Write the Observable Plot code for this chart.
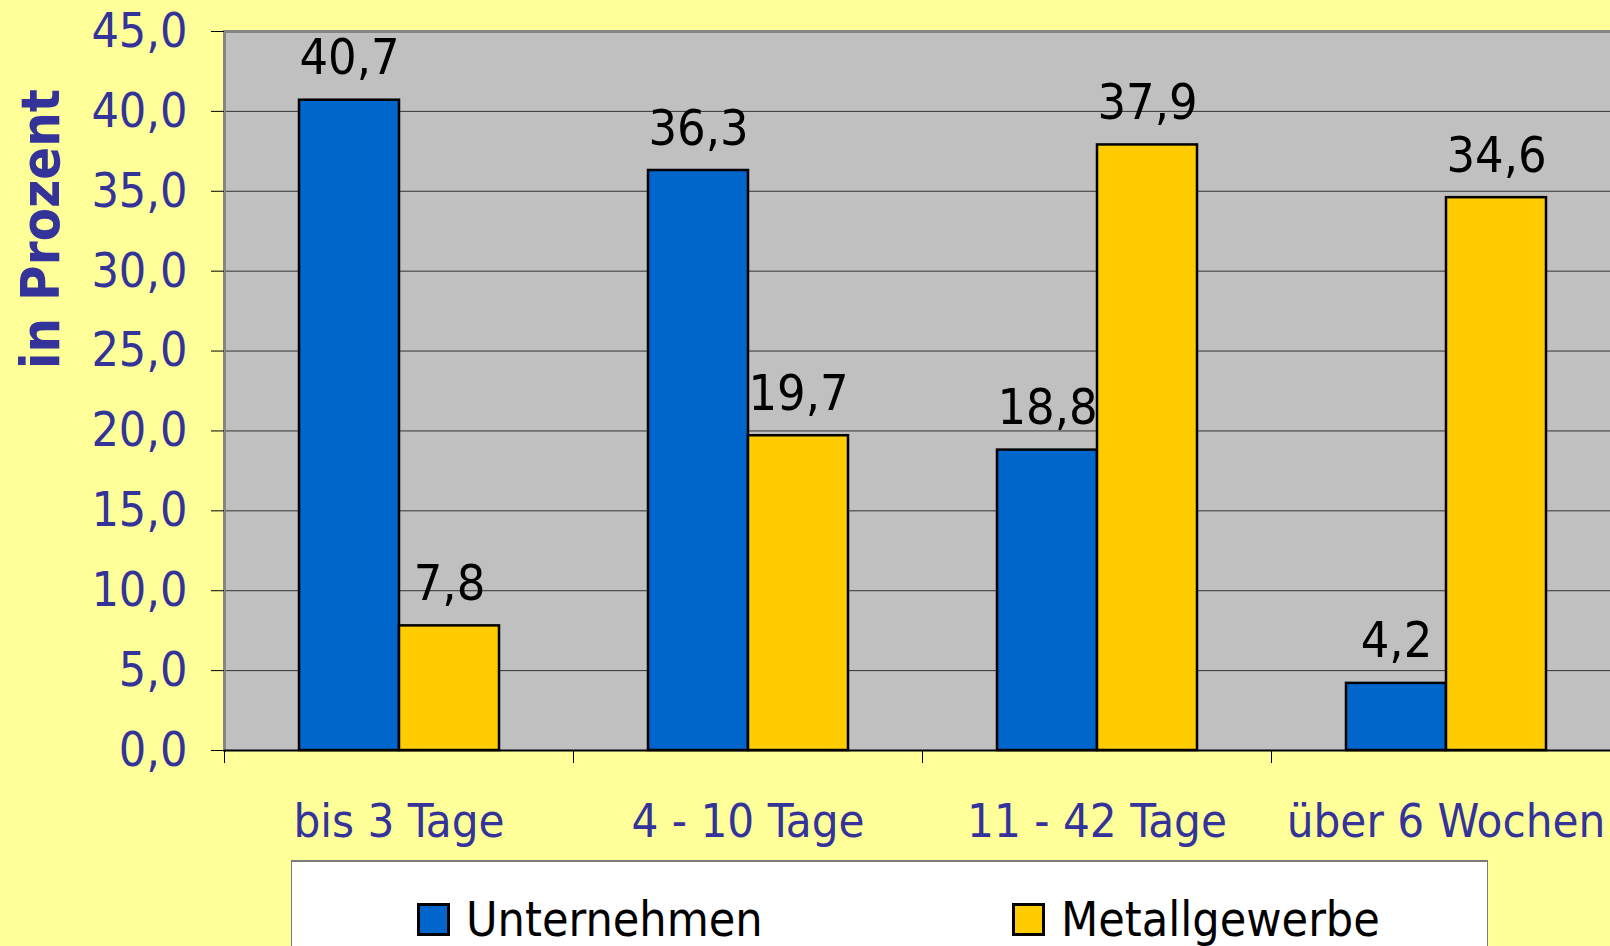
<!DOCTYPE html>
<html>
<head>
<meta charset="utf-8">
<script src="https://cdn.jsdelivr.net/npm/d3@7"></script>
<script src="https://cdn.jsdelivr.net/npm/@observablehq/plot@0.6"></script>
<style>
  html, body { margin: 0; padding: 0; background: #ffff99; overflow: hidden; }
  body { width: 1610px; height: 946px; position: relative; }
  #chart svg { display: block; max-width: none !important; }
  .legend {
    position: absolute; left: 291px; top: 860px; width: 1197px; height: 130px;
    box-sizing: border-box; background: #fff;
    border-top: 2px solid #7a7a7a; border-left: 1px solid #7a7a7a; border-right: 1px solid #7a7a7a;
    font-family: "DejaVu Sans Condensed", "DejaVu Sans", sans-serif; font-stretch: condensed;
    font-size: 48px; color: #000;
  }
  .legend .item { position: absolute; top: 29px; display: flex; align-items: center; }
  .legend .swatch { width: 33px; height: 33px; box-sizing: border-box; border: 3px solid #000; margin-right: 16px; }
</style>
</head>
<body>
<div id="chart"></div>
<script>
// Dauer der Abwesenheit: Anteile in Prozent
const categories = ["bis 3 Tage", "4 - 10 Tage", "11 - 42 Tage", "über 6 Wochen"];
const series = ["Unternehmen", "Metallgewerbe"];
const unternehmen = [40.7, 36.3, 18.8, 4.2];
const metallgewerbe = [7.8, 19.7, 37.9, 34.6];
const yTicks = [0, 5, 10, 15, 20, 25, 30, 35, 40, 45];
const seriesColors = ["#0066cc", "#ffcc00"];

const data = categories.flatMap((category, i) => [
  {category, series: series[0], value: unternehmen[i]},
  {category, series: series[1], value: metallgewerbe[i]}
]);

const de = d3.formatLocale({decimal: ",", thousands: ".", grouping: [3], currency: ["", " €"]});
const fmt = de.format(".1f");

const fontFamily = '"DejaVu Sans Condensed", "DejaVu Sans", sans-serif';
const width = 1620, marginLeft = 224, marginRight = 0;
const facetStep = (width - marginLeft - marginRight) / categories.length;

const chart = Plot.plot({
  width,
  height: 860,
  marginLeft,
  marginRight,
  marginTop: 31,
  marginBottom: 110,
  style: {background: "transparent", fontFamily, fontStretch: "condensed", fontSize: "46px", overflow: "visible"},
  fx: {domain: categories, padding: 0, label: null},
  x: {domain: series, paddingInner: 0, paddingOuter: 0.745, axis: null},
  y: {domain: [0, 45]},
  color: {domain: series, range: seriesColors},
  marks: [
    // one continuous grey plot area behind all categories
    Plot.frame({facet: "super", fill: "#c0c0c0", stroke: null}),
    Plot.ruleY(yTicks.slice(1, -1), {stroke: "#333", strokeWidth: 1}),
    Plot.ruleY([45], {stroke: "#858585", strokeWidth: 3}),
    Plot.frame({facet: "super", anchor: "left", stroke: "#858585", strokeWidth: 3}),
    Plot.barY(data, {fx: "category", x: "series", y: "value", fill: "series", stroke: "#000", strokeWidth: 2.5, inset: 0}),
    Plot.ruleY([0], {stroke: "#000", strokeWidth: 2}),
    Plot.text(data, {fx: "category", x: "series", y: "value", text: d => fmt(d.value),
      lineAnchor: "bottom", dy: -26, fill: "#000", fontSize: 50}),
    Plot.axisY({ticks: yTicks, tickFormat: fmt, tickSize: 13, tickPadding: 24,
      stroke: "#000", fill: "#333399", label: null, fontSize: 48}),
    // category boundary ticks below the baseline
    Plot.axisFx({anchor: "bottom", tickSize: 13, text: null, dx: -facetStep / 2, stroke: "#000", label: null}),
    Plot.axisFx({anchor: "bottom", tickSize: 0, tickPadding: 53, fill: "#333399", label: null, fontSize: 47}),
    Plot.text(["in Prozent"], {facet: "super", frameAnchor: "left", textAnchor: "middle", rotate: -90,
      dx: -183, dy: -162, fill: "#333399", fontWeight: "bold", fontSize: 54})
  ]
});
document.getElementById("chart").append(chart);

// legend below the chart
const legend = document.createElement("div");
legend.className = "legend";
const legendLeft = [125, 720];
series.forEach((name, i) => {
  const item = document.createElement("div");
  item.className = "item";
  item.style.left = legendLeft[i] + "px";
  const sw = document.createElement("div");
  sw.className = "swatch";
  sw.style.background = seriesColors[i];
  const label = document.createElement("span");
  label.textContent = name;
  item.append(sw, label);
  legend.append(item);
});
document.body.append(legend);
</script>
</body>
</html>
